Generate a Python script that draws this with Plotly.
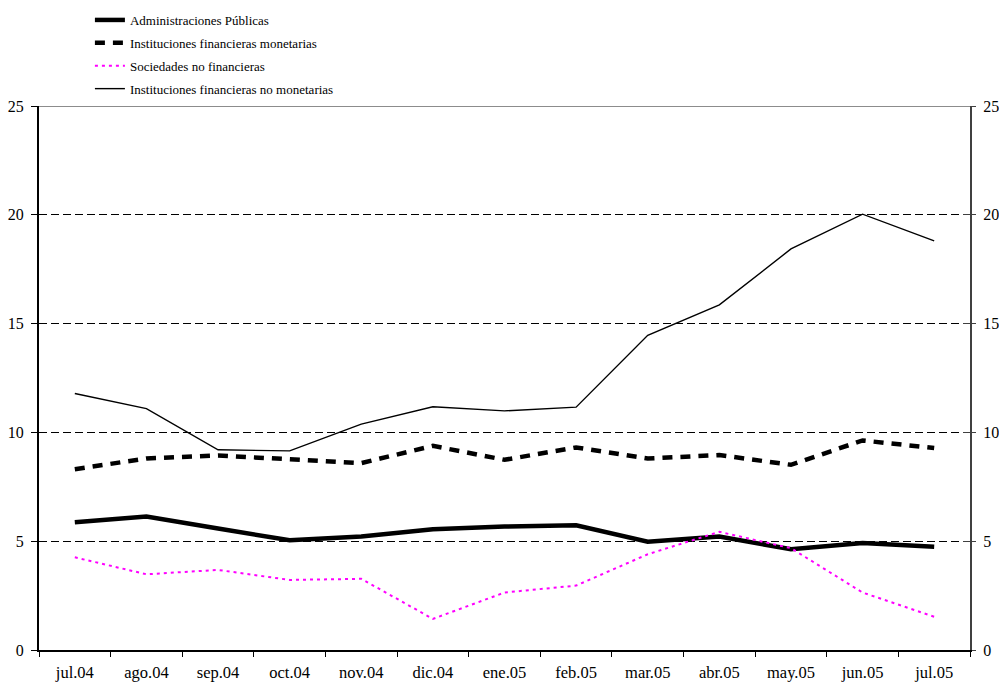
import plotly.graph_objects as go

months = ["jul.04", "ago.04", "sep.04", "oct.04", "nov.04", "dic.04", "ene.05",
          "feb.05", "mar.05", "abr.05", "may.05", "jun.05", "jul.05"]

admin_publicas = [5.87, 6.13, 5.58, 5.04, 5.22, 5.55, 5.67, 5.73, 4.98, 5.21, 4.63, 4.92, 4.75]
inst_fin_monetarias = [8.31, 8.80, 8.94, 8.77, 8.59, 9.38, 8.74, 9.31, 8.80, 8.96, 8.51, 9.63, 9.28]
sociedades_no_fin = [4.26, 3.48, 3.68, 3.22, 3.27, 1.43, 2.64, 2.96, 4.40, 5.43, 4.68, 2.64, 1.53]
inst_fin_no_monetarias = [11.79, 11.09, 9.20, 9.15, 10.38, 11.18, 10.99, 11.16, 14.46, 15.86, 18.43, 20.03, 18.80]

y_ticks = [0, 5, 10, 15, 20, 25]

FONT = "Liberation Serif"

fig = go.Figure()
fig.add_trace(go.Scatter(x=months, y=inst_fin_no_monetarias, mode="lines",
                         name="Instituciones financieras no monetarias",
                         line=dict(color="black", width=1.4), legendrank=4, legendgroup="d"))
fig.add_trace(go.Scatter(x=months, y=inst_fin_monetarias, mode="lines",
                         name="Instituciones financieras monetarias",
                         line=dict(color="black", width=4.5, dash="10px,8px"), legendrank=2, legendgroup="b"))
fig.add_trace(go.Scatter(x=months, y=admin_publicas, mode="lines",
                         name="Administraciones Públicas",
                         line=dict(color="black", width=4.5), legendrank=1, legendgroup="a"))
fig.add_trace(go.Scatter(x=months, y=sociedades_no_fin, mode="lines",
                         name="Sociedades no financieras",
                         line=dict(color="#FF00FF", width=2, dash="3px,4px"), legendrank=3, legendgroup="c"))
# helper traces so that the extra axes (right axis, inner tick halves) are drawn
for ax in ["y2", "y3", "y4"]:
    fig.add_trace(go.Scatter(x=months, y=inst_fin_no_monetarias, mode="lines", yaxis=ax,
                             line=dict(width=0, color="rgba(0,0,0,0)"), showlegend=False,
                             hoverinfo="skip"))

tick_font = dict(size=16, family=FONT, color="black")

fig.update_layout(
    width=999, height=682,
    margin=dict(l=39, r=29, t=106, b=32, autoexpand=False),
    paper_bgcolor="white", plot_bgcolor="white",
    font=dict(family=FONT, color="black"),
    showlegend=True,
    legend=dict(xref="container", yref="container", x=0.090, y=0.9927,
                xanchor="left", yanchor="top", font=dict(size=13, family=FONT),
                traceorder="grouped", tracegroupgap=3, bgcolor="rgba(0,0,0,0)"),
    xaxis=dict(type="category", range=[-0.5, 12.5], tickson="boundaries",
               ticks="outside", ticklen=5, tickwidth=1, tickcolor="black",
               showline=True, linecolor="black", linewidth=2, showgrid=False,
               zeroline=False, tickfont=dict(size=16.5, family=FONT), tickangle=0,
               automargin=False, ticklabelstandoff=6),
    yaxis=dict(range=[0, 25], tickvals=y_ticks, ticks="outside", ticklen=6,
               tickcolor="black", showline=True, linecolor="black", linewidth=2,
               showgrid=True, gridcolor="black", gridwidth=1, griddash="8px,4px",
               zeroline=False, tickfont=tick_font,
               ticklabelstandoff=4, automargin=False),
    yaxis2=dict(range=[0, 25], tickvals=y_ticks, overlaying="y", side="right",
                ticks="outside", ticklen=4, tickcolor="#404040",
                showline=True, linecolor="#404040", linewidth=2, showgrid=False,
                zeroline=False, tickfont=tick_font,
                ticklabelstandoff=4, automargin=False),
    yaxis3=dict(range=[0, 25], tickvals=y_ticks, overlaying="y", side="left",
                ticks="inside", ticklen=6, tickcolor="black", showticklabels=False,
                showline=False, showgrid=False, zeroline=False, automargin=False),
    yaxis4=dict(range=[0, 25], tickvals=y_ticks, overlaying="y", side="right",
                ticks="inside", ticklen=7, tickcolor="#404040", showticklabels=False,
                showline=False, showgrid=False, zeroline=False, automargin=False),
    shapes=[dict(type="line", xref="paper", yref="y", x0=0, x1=1, y0=25, y1=25,
                 line=dict(color="#8c8c8c", width=2), layer="above")],
)

fig.write_html(
    "out.html",
    config={"displayModeBar": False},
    post_script="document.body.style.margin='0';document.body.style.overflow='hidden';",
)
